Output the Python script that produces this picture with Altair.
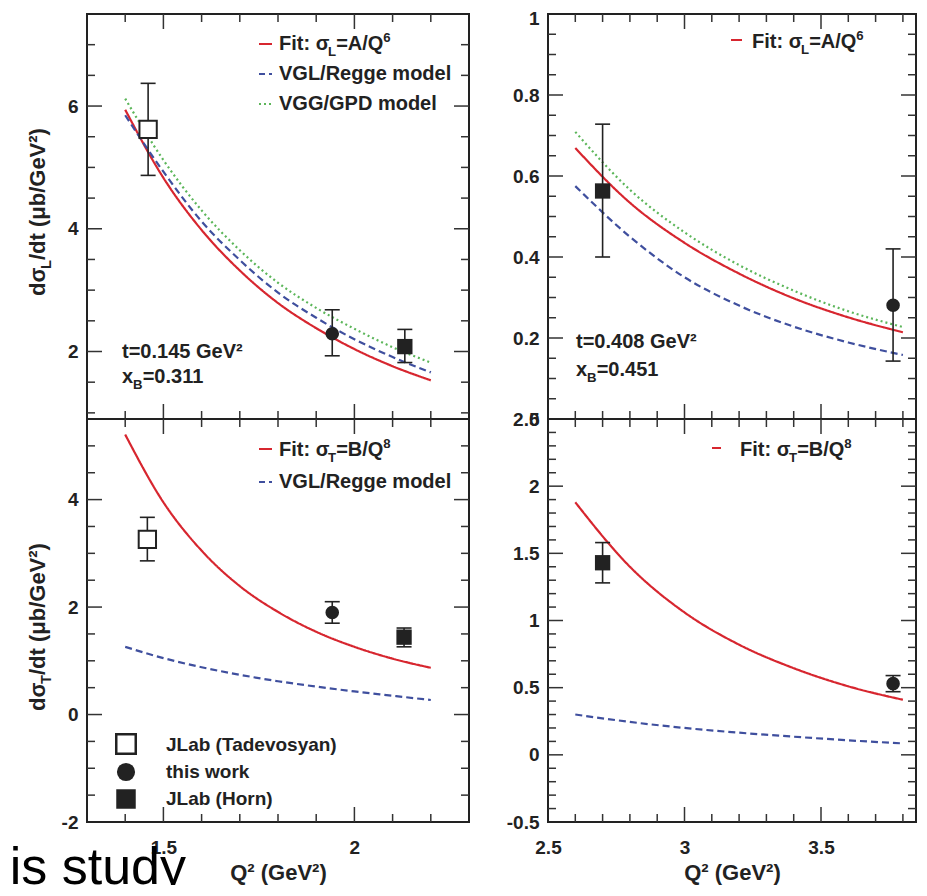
import altair as alt
import pandas as pd

FONT = "Liberation Sans"
INK = "#222222"
RED = "#d7262f"
BLUE = "#3f4f9e"
GREEN = "#5cb65a"

# ---------------- data ----------------
# curves, top-left panel (t=0.145, xB=0.311)
tl_q2 = [1.4, 1.5, 1.6, 1.7, 1.8, 1.9, 2.0, 2.1, 2.2]
tl_fit = [5.94, 4.83, 3.98, 3.32, 2.79, 2.38, 2.04, 1.76, 1.53]
tl_vgl = [5.85, 4.93, 4.12, 3.49, 2.96, 2.55, 2.20, 1.91, 1.66]
tl_vgg = [6.12, 5.12, 4.30, 3.65, 3.12, 2.71, 2.37, 2.07, 1.82]
# curves, top-right panel (t=0.408, xB=0.451)
tr_q2 = [2.6, 2.8, 3.0, 3.2, 3.4, 3.6, 3.8]
tr_fit = [0.669, 0.534, 0.435, 0.359, 0.298, 0.251, 0.214]
tr_vgl = [0.575, 0.450, 0.350, 0.280, 0.228, 0.189, 0.158]
tr_vgg = [0.709, 0.566, 0.461, 0.380, 0.317, 0.266, 0.227]
# curves, bottom-left panel (sigma_T)
bl_q2 = [1.4, 1.5, 1.6, 1.7, 1.8, 1.9, 2.0, 2.1, 2.2]
bl_fit = [5.21, 3.95, 3.05, 2.39, 1.91, 1.54, 1.26, 1.04, 0.87]
bl_vgl = [1.26, 1.05, 0.88, 0.74, 0.62, 0.52, 0.43, 0.35, 0.27]
# curves, bottom-right panel (sigma_T)
br_q2 = [2.6, 2.8, 3.0, 3.2, 3.4, 3.6, 3.8]
br_fit = [1.88, 1.40, 1.06, 0.82, 0.645, 0.51, 0.41]
br_vgl = [0.30, 0.245, 0.20, 0.165, 0.135, 0.108, 0.085]

# data points: kind, Q2, value, low, high
tl_kind = ["tad", "this", "horn"]
tl_pq2 = [1.46, 1.942, 2.132]
tl_val = [5.62, 2.29, 2.08]
tl_lo = [4.87, 1.93, 1.82]
tl_hi = [6.37, 2.68, 2.36]

tr_kind = ["horn", "this"]
tr_pq2 = [2.70, 3.764]
tr_val = [0.563, 0.281]
tr_lo = [0.40, 0.143]
tr_hi = [0.728, 0.42]

bl_kind = ["tad", "this", "horn"]
bl_pq2 = [1.458, 1.942, 2.13]
bl_val = [3.26, 1.90, 1.44]
bl_lo = [2.86, 1.70, 1.26]
bl_hi = [3.67, 2.10, 1.61]

br_kind = ["horn", "this"]
br_pq2 = [2.70, 3.764]
br_val = [1.43, 0.53]
br_lo = [1.28, 0.47]
br_hi = [1.58, 0.59]

# axis ticks and labels
xl_major = [1.5, 2.0]
xl_minor = [1.4, 1.6, 1.7, 1.8, 1.9, 2.1, 2.2]
xr_major = [3.0, 3.5]
xr_minor = [2.6, 2.7, 2.8, 2.9, 3.1, 3.2, 3.3, 3.4, 3.6, 3.7, 3.8]
ytl_major = [2, 4, 6]
ytl_minor = [1, 1.5, 2.5, 3, 3.5, 4.5, 5, 5.5, 6.5, 7]
ytr_major = [0.2, 0.4, 0.6, 0.8]
ytr_minor = [0.05, 0.1, 0.15, 0.25, 0.3, 0.35, 0.45, 0.5, 0.55, 0.65, 0.7, 0.75, 0.85, 0.9, 0.95]
ybl_major = [0, 2, 4]
ybl_minor = [-1.5, -1, -0.5, 0.5, 1, 1.5, 2.5, 3, 3.5, 4.5, 5]
ybr_major = [0, 0.5, 1, 1.5, 2]
ybr_minor = [-0.4, -0.3, -0.2, -0.1, 0.1, 0.2, 0.3, 0.4, 0.6, 0.7, 0.8, 0.9,
             1.1, 1.2, 1.3, 1.4, 1.6, 1.7, 1.8, 1.9, 2.1, 2.2, 2.3, 2.4]
ytl_labels = [2, 4, 6]
ytr_labels = [0, 0.2, 0.4, 0.6, 0.8, 1]
ybl_labels = [-2, 0, 2, 4]
ybr_labels = [-0.5, 0, 0.5, 1, 1.5, 2, 2.5]
xl_labels = [1.5, 2]
xr_labels = [2.5, 3, 3.5]

SERIES = ["fit", "vgl", "vgg"]
DUMMY = pd.DataFrame({"d": [0]})

W_AR = {' ': .278, '(': .333, ')': .333, '.': .278, '/': .278, ':': .333, '=': .584,
        'A': .722, 'B': .722, 'F': .611, 'G': .778, 'L': .611, 'Q': .778, 'T': .611,
        'V': .667, 'a': .556, 'b': .611, 'd': .611, 'e': .556, 'i': .278, 't': .333,
        'x': .556, 'σ': .62, 'μ': .611, '²': .333}


def tw(s, size):
    return sum(W_AR.get(c, .556) for c in s) * size


def rich(segs, x, y, size, angle=0):
    out = []
    pos = 0.0
    for txt, kind in segs:
        fs = size if kind == "n" else round(size * 0.66, 1)
        off = 0 if kind == "n" else (0.28 * size if kind == "sub" else -0.42 * size)
        if angle == 0:
            px, py = x + pos, y + off
        else:
            px, py = x + off, y - pos
        out.append(alt.Chart(DUMMY).mark_text(
            text=txt, font=FONT, fontSize=fs, fontWeight="bold", color=INK,
            align="left", baseline="alphabetic", angle=angle
        ).encode(x=alt.value(px), y=alt.value(py)))
        pos += tw(txt, fs)
    return out


def plain(txt, x, y, size=19):
    return alt.Chart(DUMMY).mark_text(
        text=txt, font=FONT, fontSize=size, fontWeight="bold", color=INK,
        align="left", baseline="alphabetic").encode(x=alt.value(x), y=alt.value(y))


def sample(x1, x2, y, color, dash):
    return alt.Chart(DUMMY).mark_rule(color=color, strokeWidth=2, strokeDash=dash).encode(
        x=alt.value(x1), x2=alt.value(x2), y=alt.value(y))


def label_axis(values, x=False, title=None, top_nudge=False):
    kw = dict(values=values, ticks=False, domain=False, grid=False,
              labelFont=FONT, labelFontWeight="bold", labelFontSize=19, labelColor=INK,
              labelFlush=False, labelOverlap=False, format="~g",
              labelExpr="replace(datum.label, '\u2212', '-')")
    if x:
        kw["labelPadding"] = 16
        kw.update(title=title, titleFont=FONT, titleFontWeight="bold",
                  titleFontSize=22, titleColor=INK, titlePadding=5)
    else:
        kw.update(labelPadding=9, title=None)
    if top_nudge:
        kw["labelOffset"] = {"condition": {"test": "datum.value == 1", "value": 4}, "value": 0}
    return alt.Axis(**kw)


def panel(W, H, xdom, ydom, q2, curves, kinds, pq2, val, lo, hi,
          xmaj, xmin, ymaj, ymin, ylabels, xlabels, extra, xtitle=None, top_nudge=False):
    xs = alt.Scale(domain=xdom, nice=False, zero=False)
    ys = alt.Scale(domain=ydom, nice=False, zero=False)
    xaxis = label_axis(xlabels, x=True, title=xtitle) if xlabels else None
    yaxis = label_axis(ylabels, top_nudge=top_nudge)

    def X(f):
        return alt.X(f, type="quantitative", scale=xs, axis=xaxis)

    def Y(f):
        return alt.Y(f, type="quantitative", scale=ys, axis=yaxis)

    rows = []
    for name, vals in curves.items():
        for q, v in zip(q2, vals):
            rows.append({"q2": q, "v": v, "series": name})
    cdf = pd.DataFrame(rows)
    curves_layer = alt.Chart(cdf).mark_line(strokeWidth=2.2, interpolate="monotone", clip=True).encode(
        x=X("q2"), y=Y("v"),
        color=alt.Color("series:N", scale=alt.Scale(domain=SERIES, range=[RED, BLUE, GREEN]), legend=None),
        strokeDash=alt.StrokeDash("series:N", scale=alt.Scale(domain=SERIES, range=[[1, 0], [7, 4], [2, 3]]), legend=None),
    )
    pdf = pd.DataFrame({"kind": kinds, "q2": pq2, "v": val, "lo": lo, "hi": hi})
    err = alt.Chart(pdf).mark_rule(color=INK, strokeWidth=1.6).encode(x=X("q2"), y=Y("lo"), y2="hi:Q")
    cap_lo = alt.Chart(pdf).mark_tick(orient="horizontal", size=15, thickness=1.6, color=INK, opacity=1).encode(
        x=X("q2"), y=Y("lo"))
    cap_hi = alt.Chart(pdf).mark_tick(orient="horizontal", size=15, thickness=1.6, color=INK, opacity=1).encode(
        x=X("q2"), y=Y("hi"))
    tad = alt.Chart(pdf).transform_filter("datum.kind == 'tad'").mark_point(
        shape="square", filled=True, fill="white", stroke=INK, strokeWidth=2, size=300, opacity=1).encode(
        x=X("q2"), y=Y("v"))
    this = alt.Chart(pdf).transform_filter("datum.kind == 'this'").mark_point(
        shape="circle", filled=True, color=INK, size=185, opacity=1).encode(x=X("q2"), y=Y("v"))
    horn = alt.Chart(pdf).transform_filter("datum.kind == 'horn'").mark_point(
        shape="square", filled=True, color=INK, size=235, opacity=1).encode(x=X("q2"), y=Y("v"))

    ticks = []
    for vals, ln in ((xmaj, 15), (xmin, 8)):
        tdf = pd.DataFrame({"t": vals})
        for y0, y1 in ((H, H - ln), (0, ln)):
            ticks.append(alt.Chart(tdf).mark_rule(color="#333333", strokeWidth=1.5).encode(
                x=X("t"), y=alt.value(y0), y2=alt.value(y1)))
    for vals, ln in ((ymaj, 15), (ymin, 8)):
        tdf = pd.DataFrame({"t": vals})
        for x0, x1 in ((0, ln), (W, W - ln)):
            ticks.append(alt.Chart(tdf).mark_rule(color="#333333", strokeWidth=1.5).encode(
                y=Y("t"), x=alt.value(x0), x2=alt.value(x1)))

    layers = [curves_layer] + ticks + [err, cap_lo, cap_hi, tad, this, horn] + extra
    return alt.layer(*layers).properties(width=W, height=H)


WL, WR = 382, 368
HT, HB = 405, 403
XR_DOM = [2.5, 2.5 + WR / 273.0]

# --- top-left ---
tl_extra = [
    sample(172, 185, 30, RED, [1, 0]),
    sample(172, 185, 60, BLUE, [6, 4]),
    sample(172, 186, 90, GREEN, [2, 3]),
    *rich([("Fit: σ", "n"), ("L", "sub"), ("=A/Q", "n"), ("6", "sup")], 192, 36, 20),
    plain("VGL/Regge model", 192, 66, 20),
    plain("VGG/GPD model", 192, 96, 20),
    plain("t=0.145 GeV²", 35, 344, 20),
    *rich([("x", "n"), ("B", "sub"), ("=0.311", "n")], 35, 369, 20),
    *rich([("dσ", "n"), ("L", "sub"), ("/dt (μb/GeV²)", "n")], -42, 282, 22, angle=270),
]
TL = panel(WL, HT, [1.3, 2.3], [0.9, 7.5], tl_q2, {"fit": tl_fit, "vgl": tl_vgl, "vgg": tl_vgg},
           tl_kind, tl_pq2, tl_val, tl_lo, tl_hi, xl_major, xl_minor, ytl_major, ytl_minor,
           ytl_labels, None, tl_extra)

# --- top-right ---
tr_extra = [
    sample(183, 194, 26, RED, [1, 0]),
    *rich([("Fit: σ", "n"), ("L", "sub"), ("=A/Q", "n"), ("6", "sup")], 204, 34, 20),
    plain("t=0.408 GeV²", 28, 334, 20),
    *rich([("x", "n"), ("B", "sub"), ("=0.451", "n")], 28, 362, 20),
]
TR = panel(WR, HT, XR_DOM, [0, 1], tr_q2, {"fit": tr_fit, "vgl": tr_vgl, "vgg": tr_vgg},
           tr_kind, tr_pq2, tr_val, tr_lo, tr_hi, xr_major, xr_minor, ytr_major, ytr_minor,
           ytr_labels, None, tr_extra, top_nudge=True)

# --- bottom-left ---
leg_pts = alt.Chart(DUMMY)
bl_extra = [
    sample(172, 185, 30, RED, [1, 0]),
    sample(172, 185, 63, BLUE, [6, 4]),
    *rich([("Fit: σ", "n"), ("T", "sub"), ("=B/Q", "n"), ("8", "sup")], 192, 37, 20),
    plain("VGL/Regge model", 192, 69, 20),
    leg_pts.mark_point(shape="square", filled=True, fill="white", stroke=INK, strokeWidth=2.5,
                       size=380, opacity=1).encode(x=alt.value(39), y=alt.value(325)),
    leg_pts.mark_point(shape="circle", filled=True, color=INK, size=330, opacity=1).encode(
        x=alt.value(39), y=alt.value(353)),
    leg_pts.mark_point(shape="square", filled=True, color=INK, size=380, opacity=1).encode(
        x=alt.value(39), y=alt.value(380)),
    plain("JLab (Tadevosyan)", 79, 332, 19),
    plain("this work", 79, 359, 19),
    plain("JLab (Horn)", 79, 386, 19),
    *rich([("dσ", "n"), ("T", "sub"), ("/dt (μb/GeV²)", "n")], -42, 292, 22, angle=270),
    alt.Chart(DUMMY).mark_text(text=["this study", ""], lineHeight=-10, font=FONT, fontSize=52,
                               fontWeight="normal", color="#000000", align="right",
                               baseline="alphabetic", dir="rtl", limit=182,
                               ellipsis="\u200b").encode(
        x=alt.value(99), y=alt.value(465)),
]
BL = panel(WL, HB, [1.3, 2.3], [-2, 5.5], bl_q2, {"fit": bl_fit, "vgl": bl_vgl},
           bl_kind, bl_pq2, bl_val, bl_lo, bl_hi, xl_major, xl_minor, ybl_major, ybl_minor,
           ybl_labels, xl_labels, bl_extra, xtitle="Q² (GeV²)")

# --- bottom-right ---
br_extra = [
    sample(164, 173, 29, RED, [1, 0]),
    *rich([("Fit: σ", "n"), ("T", "sub"), ("=B/Q", "n"), ("8", "sup")], 192, 37, 20),
]
BR = panel(WR, HB, XR_DOM, [-0.5, 2.5], br_q2, {"fit": br_fit, "vgl": br_vgl},
           br_kind, br_pq2, br_val, br_lo, br_hi, xr_major, xr_minor, ybr_major, ybr_minor,
           ybr_labels, xr_labels, br_extra, xtitle="Q² (GeV²)")

chart = alt.concat(TL, TR, BL, BR, columns=2, spacing={"row": 0, "column": 79}, bounds="flush").properties(
    padding=0
).configure_view(stroke=INK, strokeWidth=2)

chart.save("out.html", embed_options={"renderer": "svg", "actions": False})
